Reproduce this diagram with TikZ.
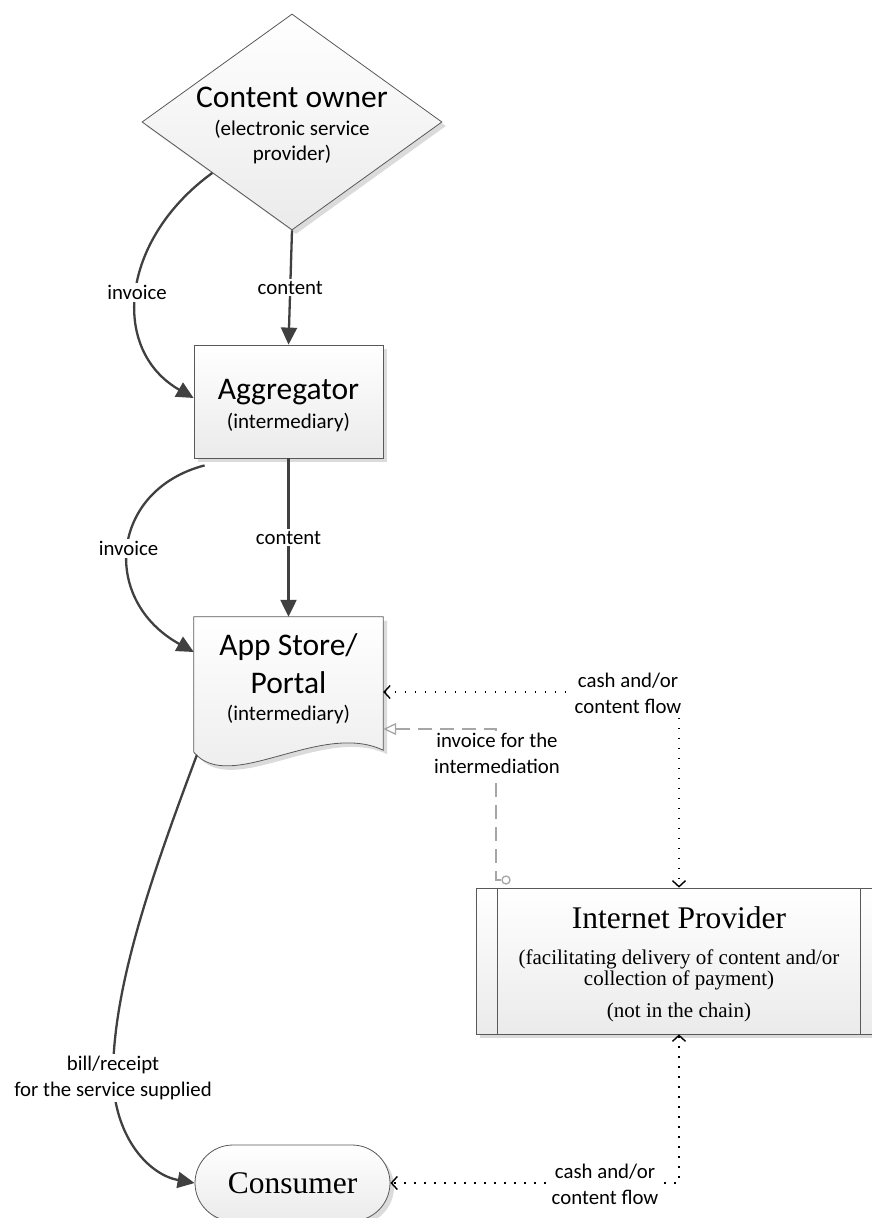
\documentclass[tikz,border=0pt]{standalone}
\usepackage{fontspec}
\setmainfont{Carlito}
\newfontfamily\tnr{Liberation Serif}
\usetikzlibrary{shapes.geometric,shadows,arrows.meta,calc}
\definecolor{edgegray}{HTML}{595959}
\definecolor{flowgray}{HTML}{404040}
\definecolor{dashgray}{HTML}{A6A6A6}
\newcommand\mystrut[2]{\rule[-#2pt]{0pt}{\dimexpr #1pt+#2pt\relax}}
\newcommand\ttlf{\fontsize{31.5}{0}\selectfont}
\newenvironment{lines}{\begin{tabular}{@{}c@{}}}{\end{tabular}}
\tikzset{
  shp/.style={draw=edgegray, line width=0.8pt, top color=white, bottom color=black!8,
    drop shadow={shadow xshift=4pt, shadow yshift=-4pt, fill=black!14, opacity=1}},
  boxtext/.style={inner sep=0pt, font=\fontsize{21}{0}\selectfont},
  lbl/.style={align=center, fill=white, inner sep=2pt, font=\fontsize{20.8}{26}\selectfont},
  flowarrow/.style={draw=flowgray, line width=2.3pt, -{Triangle[length=17pt,width=16pt]}},
  barb/.tip={Straight Barb[length=6pt,width=13pt,line width=1.4pt]},
  dotflow/.style={draw=black, line width=1.6pt, dash pattern=on 1.6pt off 8.4pt, barb-barb},
  invline/.style={draw=dashgray, line width=1.8pt, dash pattern=on 14pt off 8pt,
    -{Triangle[open,length=13pt,width=12pt,line width=1.3pt]}}
}
\begin{document}
\begin{tikzpicture}[x=1pt,y=-1pt]
\useasboundingbox (0,0) rectangle (872,1218);
\clip (0,0) rectangle (872,1218);

% Content owner
\node[diamond, shp, minimum width=300pt, minimum height=216pt, inner sep=0pt] (co) at (292,122) {};
\node[boxtext] (cot) at (292,124.5)
  {\begin{lines}{\ttlf\mystrut{24}{8}Content owner}\\ \mystrut{20}{6}(electronic service\\ \mystrut{19}{6}provider)\end{lines}};

% Aggregator
\node[shp, rectangle, minimum width=189pt, minimum height=113pt, boxtext] (agg) at (288.5,401.5)
  {\begin{lines}{\ttlf\mystrut{30}{8}Aggregator}\\ \mystrut{21}{6}(intermediary)\end{lines}};

% App Store / Portal (document shape)
\node[minimum width=189pt, minimum height=135pt, inner sep=0pt] (app) at (288.5,684.5) {};
\path[shp] (app.north west) -- (app.north east) -- ($(app.south east)+(0,-2)$)
  .. controls ($(app.south east)+(-63,-32)$) and ($(app.south west)+(36,43)$) .. (app.south west) -- cycle;
\node[boxtext] (appt) at ($(app.center)+(0,-6)$)
  {\begin{lines}{\ttlf\mystrut{24}{8}App Store/}\\ {\ttlf\mystrut{30}{8}Portal}\\ \mystrut{19}{6}(intermediary)\end{lines}};

% Internet Provider
\node[shp, rectangle, minimum width=406pt, minimum height=146pt, inner sep=0pt,
  font=\tnr\fontsize{21}{0}\selectfont] (ip) at (679,961)
  {\begin{lines}{\ttlf\mystrut{29}{7}Internet Provider}\\ \mystrut{29}{5}(facilitating delivery of content and/or\\ \mystrut{15.5}{5}collection of payment)\\ \mystrut{27}{5}(not in the chain)\end{lines}};
\draw[edgegray, line width=0.8pt] ($(ip.north west)+(22,0)$) -- ($(ip.south west)+(22,0)$);
\draw[edgegray, line width=0.8pt] ($(ip.north east)+(-22,0)$) -- ($(ip.south east)+(-22,0)$);

% Consumer
\node[shp, rectangle, rounded corners=38pt, minimum width=195pt, minimum height=76pt, inner sep=0pt,
  font=\tnr\fontsize{31.5}{36}\selectfont] (cons) at (292.5,1183) {Consumer};

% Solid flows
\draw[flowarrow] (co.south) -- (agg.north) node[lbl, midway] (c1) {content};
\draw[flowarrow] (agg.south) -- (app.north) node[lbl, midway] (c2) {content};
\draw[flowarrow] ($(co.west)!0.47!(co.south)$) .. controls (120,240) and (110,350) .. ($(agg.west)+(0,-3.5)$)
  node[lbl, pos=0.5] (i1) {invoice};
\draw[flowarrow] ($(agg.south west)+(11,7)$) .. controls (110,490) and (100,600) .. ($(app.west)+(0,-32.5)$)
  node[lbl, pos=0.5] (i2) {invoice};
\draw[flowarrow] ($(app.south west)+(3,3)$) .. controls (150,880) and (112,990) .. (113,1080)
  .. controls (116,1140) and (150,1175) .. (cons.west);
\node[lbl] (bill) at (113,1078) {bill/receipt\\for the service supplied};

% Dotted cash/content flows
\draw[dotflow] ($(app.east)+(0,7.5)$) -| (ip.north);
\node[lbl] (cf1) at (628,693) {cash and/or\\content flow};
\draw[dotflow] (ip.south) |- (cons.east);
\node[lbl] (cf2) at (605,1184) {cash and/or\\content flow};

% Invoice for the intermediation
\node[circle, draw=dashgray, line width=1.3pt, minimum size=8pt, inner sep=0pt] (odot) at (506,880) {};
\draw[invline] (odot.west) -- ++(-5,0) |- ($(app.east)+(0,44.5)$);
\node[lbl] (inv3) at (497,753) {invoice for the\\intermediation};
\end{tikzpicture}
\end{document}
